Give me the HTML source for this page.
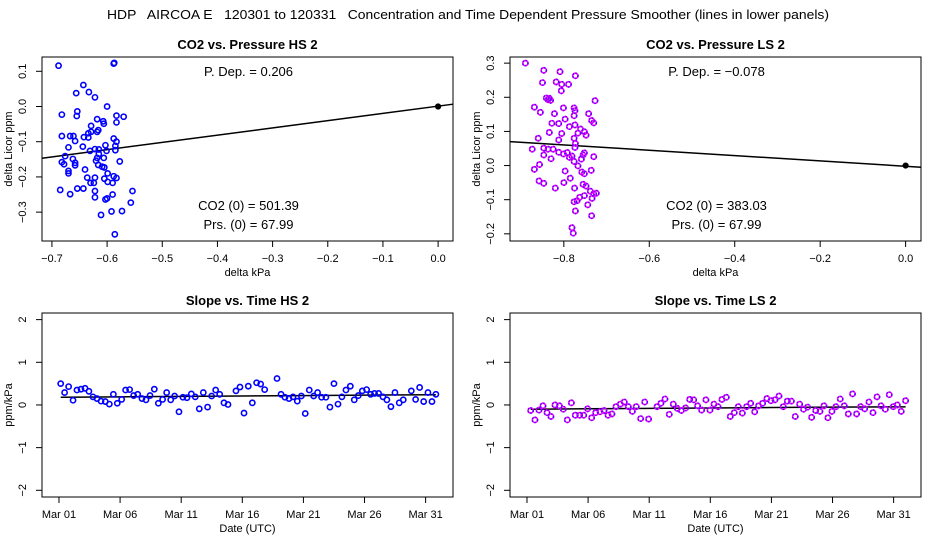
<!DOCTYPE html>
<html><head><meta charset="utf-8">
<style>
html,body{margin:0;padding:0;background:#fff;}
svg{display:block;font-family:"Liberation Sans",Arial,sans-serif;}
</style></head>
<body>
<svg id="chart" width="936" height="540" viewBox="0 0 936 540" xmlns="http://www.w3.org/2000/svg">
<text x="468" y="19" text-anchor="middle" font-size="12.5" style="white-space:pre" xml:space="preserve" textLength="722" lengthAdjust="spacingAndGlyphs">HDP   AIRCOA E   120301 to 120331   Concentration and Time Dependent Pressure Smoother (lines in lower panels)</text>
</svg>
<script>
// ---- Data: top-left (HS scatter) ----
const hsX = [-0.688,-0.588,-0.587,-0.643,-0.656,-0.633,-0.622,-0.600,-0.682,-0.654,-0.655,-0.583,-0.570,-0.618,-0.607,-0.606,-0.583,-0.629,-0.629,-0.634,-0.616,-0.618,-0.682,-0.667,-0.661,-0.642,-0.634,-0.658,-0.588,-0.583,-0.670,-0.644,-0.603,-0.585,-0.631,-0.622,-0.615,-0.601,-0.585,-0.676,-0.615,-0.618,-0.606,-0.662,-0.682,-0.678,-0.658,-0.658,-0.620,-0.616,-0.609,-0.577,-0.640,-0.670,-0.670,-0.605,-0.636,-0.622,-0.605,-0.588,-0.583,-0.599,-0.630,-0.624,-0.599,-0.590,-0.685,-0.654,-0.643,-0.622,-0.554,-0.667,-0.590,-0.622,-0.603,-0.600,-0.557,-0.592,-0.573,-0.611,-0.586];
const hsY = [0.116,0.122,0.124,0.061,0.038,0.041,0.026,0.000,-0.023,-0.014,-0.027,-0.026,-0.029,-0.036,-0.042,-0.049,-0.045,-0.055,-0.072,-0.076,-0.067,-0.072,-0.084,-0.084,-0.084,-0.087,-0.088,-0.098,-0.091,-0.100,-0.116,-0.114,-0.110,-0.112,-0.126,-0.121,-0.122,-0.126,-0.124,-0.141,-0.135,-0.146,-0.146,-0.149,-0.158,-0.164,-0.160,-0.167,-0.154,-0.166,-0.171,-0.156,-0.179,-0.183,-0.190,-0.173,-0.202,-0.202,-0.205,-0.198,-0.203,-0.190,-0.217,-0.217,-0.214,-0.217,-0.237,-0.233,-0.233,-0.240,-0.240,-0.249,-0.250,-0.258,-0.264,-0.261,-0.273,-0.298,-0.297,-0.308,-0.363];
const hsFit = [0.206, 0.001]; // slope, intercept
const hsTicksX = [-0.7,-0.6,-0.5,-0.4,-0.3,-0.2,-0.1,0.0];
const hsTickLabelsX = ["\u22120.7","\u22120.6","\u22120.5","\u22120.4","\u22120.3","\u22120.2","\u22120.1","0.0"];
const hsTicksY = [0.1,0.0,-0.1,-0.2,-0.3];
const hsTickLabelsY = ["0.1","0.0","\u22120.1","\u22120.2","\u22120.3"];
const hsText = ["P. Dep. =  0.206","CO2 (0) =  501.39","Prs. (0) =  67.99"];

// ---- Data: top-right (LS scatter) ----
const lsX = [-0.890,-0.847,-0.809,-0.773,-0.850,-0.818,-0.805,-0.789,-0.806,-0.841,-0.834,-0.837,-0.831,-0.727,-0.869,-0.855,-0.822,-0.801,-0.776,-0.774,-0.742,-0.828,-0.812,-0.797,-0.776,-0.787,-0.774,-0.735,-0.730,-0.834,-0.805,-0.761,-0.752,-0.748,-0.767,-0.776,-0.812,-0.860,-0.874,-0.847,-0.837,-0.825,-0.812,-0.801,-0.792,-0.787,-0.781,-0.773,-0.774,-0.847,-0.830,-0.776,-0.767,-0.759,-0.755,-0.752,-0.730,-0.869,-0.857,-0.797,-0.758,-0.752,-0.736,-0.858,-0.847,-0.820,-0.800,-0.785,-0.775,-0.755,-0.748,-0.752,-0.738,-0.730,-0.724,-0.734,-0.763,-0.769,-0.776,-0.744,-0.773,-0.735,-0.781,-0.778];
const lsY = [0.300,0.279,0.275,0.263,0.243,0.245,0.238,0.238,0.219,0.198,0.197,0.193,0.191,0.190,0.171,0.156,0.152,0.169,0.169,0.161,0.152,0.124,0.123,0.136,0.146,0.114,0.119,0.132,0.125,0.097,0.094,0.107,0.099,0.089,0.095,0.080,0.075,0.080,0.048,0.051,0.048,0.048,0.039,0.034,0.038,0.024,0.028,0.065,0.053,0.031,0.020,0.012,-0.001,0.019,0.031,0.037,0.026,-0.011,0.003,-0.016,-0.019,-0.024,-0.014,-0.045,-0.052,-0.066,-0.050,-0.037,-0.066,-0.055,-0.060,-0.088,-0.075,-0.083,-0.081,-0.096,-0.093,-0.103,-0.106,-0.115,-0.133,-0.147,-0.182,-0.198];
const lsFit = [-0.078, -0.002];
const lsTicksX = [-0.8,-0.6,-0.4,-0.2,0.0];
const lsTickLabelsX = ["\u22120.8","\u22120.6","\u22120.4","\u22120.2","0.0"];
const lsTicksY = [0.3,0.2,0.1,0.0,-0.1,-0.2];
const lsTickLabelsY = ["0.3","0.2","0.1","0.0","\u22120.1","\u22120.2"];
const lsText = ["P. Dep. =  \u22120.078","CO2 (0) =  383.03","Prs. (0) =  67.99"];

// ---- Data: bottom-left (HS slope vs time; day offset from Mar 01) ----
const hsDays = [0.14,0.46,0.79,1.15,1.47,1.80,2.13,2.45,2.78,3.11,3.44,3.79,4.12,4.45,4.77,5.13,5.45,5.78,6.11,6.44,6.79,7.12,7.45,7.80,8.13,8.48,8.81,9.14,9.46,9.82,10.14,10.47,10.83,11.15,11.48,11.81,12.16,12.49,12.82,13.15,13.50,13.83,14.48,14.81,15.14,15.49,15.82,16.17,16.50,16.83,17.84,18.17,18.49,18.82,19.15,19.50,19.83,20.15,20.48,20.84,21.16,21.49,21.84,22.17,22.50,22.83,23.15,23.48,23.84,24.16,24.49,24.82,25.17,25.50,25.82,26.15,26.51,26.83,27.16,27.49,27.84,28.17,28.83,29.18,29.51,29.84,30.19,30.52,30.84];
const hsSlope = [0.50,0.29,0.43,0.11,0.35,0.37,0.39,0.32,0.19,0.15,0.09,0.08,0.02,0.25,0.04,0.13,0.35,0.36,0.22,0.25,0.15,0.12,0.22,0.37,0.04,0.13,0.29,0.12,0.21,-0.16,0.18,0.17,0.26,0.19,-0.09,0.29,-0.05,0.21,0.35,0.25,0.05,0.01,0.33,0.42,-0.19,0.44,0.05,0.52,0.49,0.36,0.62,0.25,0.18,0.15,0.19,0.09,0.21,-0.20,0.35,0.21,0.29,0.18,0.18,-0.05,0.50,0.02,0.19,0.35,0.44,0.12,0.22,0.33,0.36,0.25,0.27,0.27,0.19,0.12,-0.04,0.29,0.05,0.12,0.33,0.13,0.41,0.08,0.29,0.08,0.25];
const hsSmoothDays = [0,5,10,15,20,25,31];
const hsSmooth = [0.18,0.19,0.20,0.21,0.22,0.23,0.24];

// ---- Data: bottom-right (LS slope vs time) ----
const lsDays = [0.30,0.65,0.98,1.31,1.64,1.96,2.29,2.65,2.97,3.30,3.63,3.95,4.31,4.64,4.96,5.29,5.62,5.97,6.30,6.63,6.95,7.28,7.64,7.96,8.29,8.62,8.94,9.30,9.63,9.95,10.64,10.96,11.29,11.64,11.97,12.30,12.63,12.98,13.31,13.64,13.96,14.29,14.64,14.97,15.30,15.63,15.95,16.31,16.63,16.96,17.29,17.62,17.97,18.30,18.63,18.95,19.28,19.63,19.96,20.29,20.62,20.97,21.30,21.63,21.95,22.31,22.63,22.96,23.29,23.62,23.97,24.30,24.62,24.95,25.28,25.63,25.96,26.29,26.64,26.97,27.30,27.63,27.98,28.31,28.64,28.97,29.32,29.64,29.97,30.30,30.62,30.98];
const lsSlope = [-0.13,-0.35,-0.12,-0.02,-0.18,-0.27,0.00,-0.02,-0.10,-0.35,0.05,-0.24,-0.24,-0.24,-0.09,-0.30,-0.18,-0.16,-0.13,-0.24,-0.21,-0.04,0.02,0.07,-0.04,-0.15,-0.04,-0.32,0.07,-0.33,-0.04,0.04,0.14,-0.22,0.02,-0.08,-0.13,-0.07,0.13,0.12,-0.02,-0.12,0.12,-0.12,0.02,-0.04,0.13,0.18,-0.27,-0.18,-0.04,-0.19,-0.04,0.04,-0.16,-0.02,0.04,0.15,0.10,0.12,0.21,-0.04,0.09,0.09,-0.27,0.02,-0.10,-0.05,-0.29,-0.13,-0.15,-0.02,-0.30,-0.15,-0.04,0.14,-0.02,-0.21,0.26,-0.21,-0.04,-0.09,0.07,-0.18,0.19,-0.02,-0.10,0.24,-0.04,0.00,-0.15,0.10];
const lsSmoothDays = [0,5,10,15,20,25,31];
const lsSmooth = [-0.10,-0.09,-0.08,-0.07,-0.06,-0.05,-0.045];

const timeTicks = [0,5,10,15,20,25,30];
const timeTickLabels = ["Mar 01","Mar 06","Mar 11","Mar 16","Mar 21","Mar 26","Mar 31"];
const slopeTicks = [2,1,0,-1,-2];
const slopeTickLabels = ["2","1","0","\u22121","\u22122"];

const NS = "http://www.w3.org/2000/svg";
const svg = document.getElementById('chart');
function mk(tag, attrs, parent){
  const e = document.createElementNS(NS, tag);
  for (const k in attrs) e.setAttribute(k, attrs[k]);
  (parent||svg).appendChild(e);
  return e;
}

function panel(cfg){
  const g = mk('g', {});
  
  
  const L=cfg.box[0], R=cfg.box[1], T=cfg.box[2], B=cfg.box[3];
  const sx = v => L + (v - cfg.xr[0])/(cfg.xr[1]-cfg.xr[0])*(R-L);
  const sy = v => B - (v - cfg.yr[0])/(cfg.yr[1]-cfg.yr[0])*(B-T);
  const t = mk('text', {x:(L+R)/2, y:T-8, 'text-anchor':'middle', 'font-size':13, 'font-weight':'bold'}, g);
  t.textContent = cfg.title;
  
  
  const bx = mk('rect', {x:L, y:T, width:R-L, height:B-T, fill:'none', stroke:'#000', 'stroke-width':1}, g);
  
  
  cfg.xt.forEach((v,i)=>{
    const x = sx(v);
    mk('line', {x1:x, x2:x, y1:B, y2:B+6, stroke:'#000'}, g);
    const tl = mk('text', {x:x, y:B+21, 'text-anchor':'middle', 'font-size':11}, g);
    tl.textContent = cfg.xl[i];
    
    
  });
  cfg.yt.forEach((v,i)=>{
    const y = sy(v);
    mk('line', {x1:L-6, x2:L, y1:y, y2:y, stroke:'#000'}, g);
    const tl = mk('text', {x:0, y:0, 'text-anchor':'middle', 'font-size':11, transform:`translate(${L-16},${y}) rotate(-90)`}, g);
    tl.textContent = cfg.yl[i];
    
    
  });
  const xtitle = mk('text', {x:(L+R)/2, y:B+35, 'text-anchor':'middle', 'font-size':11}, g);
  xtitle.textContent = cfg.xtitle;
  
  
  const ytitle = mk('text', {x:0, y:0, 'text-anchor':'middle', 'font-size':11, transform:`translate(${L-30},${(T+B)/2}) rotate(-90)`}, g);
  ytitle.textContent = cfg.ytitle;
  
  
  if (cfg.fit){
    const x0=cfg.xr[0], x1=cfg.xr[1];
    const ln = mk('line', {x1:sx(x0), y1:sy(cfg.fit[0]*x0+cfg.fit[1]), x2:sx(x1), y2:sy(cfg.fit[0]*x1+cfg.fit[1]), stroke:'#000', 'stroke-width':1.5}, g);
    
    
  }
  if (cfg.sm){
    const pts = cfg.smX.map((d,i)=>sx(Math.min(d, cfg.xs[cfg.xs.length-1]))+','+sy(cfg.sm[i]));
    pts[0] = sx(cfg.xs[0])+','+sy(cfg.sm[0]);
    const pl = mk('polyline', {points:pts.join(' '), fill:'none', stroke:'#000', 'stroke-width':1.5}, g);
    
    
  }
  cfg.xs.forEach((v,i)=>{
    const c = mk('circle', {cx:sx(v), cy:sy(cfg.ys[i]), r:2.6, fill:'none', stroke:cfg.color, 'stroke-width':1.6}, g);
    
    
    if (cfg.color2){
      mk('circle', {cx:sx(v), cy:sy(cfg.ys[i]), r:2.6, fill:'none', stroke:cfg.color2, 'stroke-width':1.6, 'stroke-dasharray':'1.5 1.5'}, g);
    }
  });
  if (cfg.fit){
    const o = mk('circle', {cx:sx(0), cy:sy(0), r:2.6, fill:'#000', stroke:'#000', 'stroke-width':1}, g);
    
    
  }
  if (cfg.texts){
    const cx = (L+R)/2 + 1;
    const ys = [T+19, B-31, B-12];
    cfg.texts.forEach((s,i)=>{
      const tx = mk('text', {x:cx, y:ys[i], 'text-anchor':'middle', 'font-size':13}, g);
      tx.textContent = s;
      
      
    });
  }
}

panel({name:'panel-co2-vs-pressure-hs', title:'CO2 vs. Pressure HS 2', box:[42,453,57,241], xr:[-0.718,0.027], yr:[-0.382,0.1406],
  xt:hsTicksX, xl:hsTickLabelsX, yt:hsTicksY, yl:hsTickLabelsY, xtitle:'delta kPa', ytitle:'delta Licor ppm',
  xs:hsX, ys:hsY, color:'#0000ff', fit:hsFit, texts:hsText});
panel({name:'panel-co2-vs-pressure-ls', title:'CO2 vs. Pressure LS 2', box:[510,921,57,241], xr:[-0.926,0.036], yr:[-0.221,0.318],
  xt:lsTicksX, xl:lsTickLabelsX, yt:lsTicksY, yl:lsTickLabelsY, xtitle:'delta kPa', ytitle:'delta Licor ppm',
  xs:lsX, ys:lsY, color:'#ff00ff', color2:'#6000ff', fit:lsFit, texts:lsText});
panel({name:'panel-slope-vs-time-hs', title:'Slope vs. Time HS 2', box:[42,453,313,497], xr:[-1.3896,32.24], yr:[-2.157,2.155],
  xt:timeTicks, xl:timeTickLabels, yt:slopeTicks, yl:slopeTickLabels, xtitle:'Date (UTC)', ytitle:'ppm/kPa',
  xs:hsDays, ys:hsSlope, color:'#0000ff', sm:hsSmooth, smX:hsSmoothDays});
panel({name:'panel-slope-vs-time-ls', title:'Slope vs. Time LS 2', box:[510,921,313,497], xr:[-1.3896,32.24], yr:[-2.157,2.155],
  xt:timeTicks, xl:timeTickLabels, yt:slopeTicks, yl:slopeTickLabels, xtitle:'Date (UTC)', ytitle:'ppm/kPa',
  xs:lsDays, ys:lsSlope, color:'#ff00ff', color2:'#6000ff', sm:lsSmooth, smX:lsSmoothDays});
</script>
</body></html>
